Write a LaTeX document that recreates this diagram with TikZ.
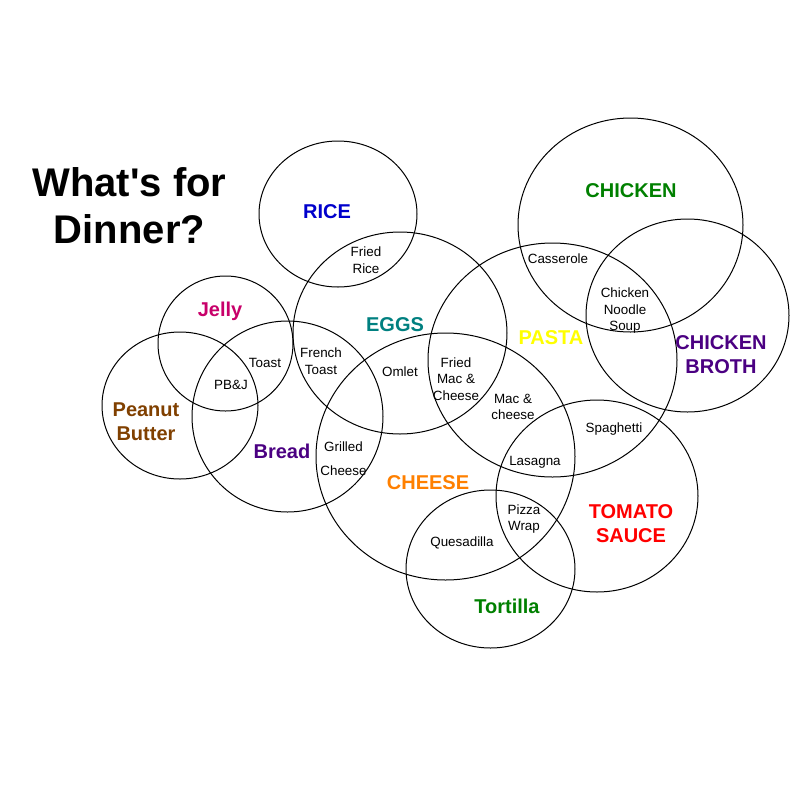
\documentclass[tikz,border=0pt]{standalone}
\usepackage{fontspec}
\setmainfont{Liberation Sans}
\newfontfamily\titlefont{Liberation Sans}[Ligatures=TeXOff]
\definecolor{ricec}{HTML}{0000CC}
\definecolor{jellyc}{HTML}{C8006A}
\definecolor{eggsc}{HTML}{008080}
\definecolor{pbc}{HTML}{804000}
\definecolor{breadc}{HTML}{4B0082}
\definecolor{pastac}{HTML}{FFFF00}
\definecolor{chickc}{HTML}{008000}
\definecolor{brothc}{HTML}{4B0082}
\definecolor{cheesec}{HTML}{FF8000}
\definecolor{tomc}{HTML}{FF0000}
\definecolor{tortc}{HTML}{008000}
\tikzset{
  setc/.style={draw=black, line width=1pt},
  biglab/.style={font=\fontsize{20}{24}\selectfont\bfseries, align=center, inner sep=0pt},
  smalllab/.style={font=\fontsize{13.4}{16.5}\selectfont, align=center, inner sep=0pt, text=black},
}
\begin{document}
\begin{tikzpicture}[x=1pt,y=-1pt]
\useasboundingbox[fill=white] (0,0) rectangle (801,801);
% sets
\draw[setc] (338,214) ellipse [x radius=79, y radius=73];
\draw[setc] (400,333) ellipse [x radius=107, y radius=101];
\draw[setc] (225.5,343.5) ellipse [x radius=67.5, y radius=67.5];
\draw[setc] (180,405.5) ellipse [x radius=78, y radius=73.5];
\draw[setc] (287.5,416.5) ellipse [x radius=95.5, y radius=95.5];
\draw[setc] (445.5,456.5) ellipse [x radius=129.5, y radius=123.5];
\draw[setc] (552.5,360) ellipse [x radius=124.5, y radius=117];
\draw[setc] (630.5,225) ellipse [x radius=112.5, y radius=107];
\draw[setc] (687.5,315.5) ellipse [x radius=101.5, y radius=96.5];
\draw[setc] (597,496) ellipse [x radius=101, y radius=96];
\draw[setc] (490.5,569) ellipse [x radius=84.5, y radius=79];
% title
\node[font=\titlefont\fontsize{40}{47}\selectfont\bfseries, align=center, inner sep=0pt] (title) at (129.5,206) {What's for\\Dinner?};
% big labels
\node[biglab, text=ricec] (rice) at (327,212) {RICE};
\node[biglab, text=jellyc] (jelly) at (220,311) {Jelly};
\node[biglab, text=eggsc] (eggs) at (395,325) {EGGS};
\node[biglab, text=pbc] (pb) at (146,422) {Peanut\\Butter};
\node[biglab, text=breadc] (bread) at (282,451) {Bread};
\node[biglab, text=pastac] (pasta) at (551,338) {PASTA};
\node[biglab, text=chickc] (chicken) at (631,191) {CHICKEN};
\node[biglab, text=brothc] (broth) at (721,355) {CHICKEN\\BROTH};
\node[biglab, text=cheesec] (cheese) at (428,483) {CHEESE};
\node[biglab, text=tomc] (tomato) at (631,524) {TOMATO\\SAUCE};
\node[biglab, text=tortc] (tortilla) at (507,606) {Tortilla};
% small labels
\node[smalllab] (friedrice) at (366,260) {Fried\\Rice};
\node[smalllab] (toast) at (265,363) {Toast};
\node[smalllab] (french) at (321,361) {French\\Toast};
\node[smalllab] (pbj) at (231,385) {PB\&J};
\node[smalllab, font=\fontsize{13.4}{24}\selectfont] (grilled) at (343.5,459) {Grilled\\Cheese};
\node[smalllab] (omlet) at (400,372) {Omlet};
\node[smalllab] (friedmac) at (456,379) {Fried\\Mac \&\\Cheese};
\node[smalllab] (mac) at (513,407) {Mac \&\\cheese};
\node[smalllab] (casserole) at (558,259) {Casserole};
\node[smalllab] (cns) at (625,311) {Chicken\\Noodle\\Soup};
\node[smalllab] (spaghetti) at (614,429) {Spaghetti};
\node[smalllab] (lasagna) at (535,462) {Lasagna};
\node[smalllab] (pizza) at (524,519) {Pizza\\Wrap};
\node[smalllab] (quesadilla) at (462,543) {Quesadilla};
\end{tikzpicture}
\end{document}
